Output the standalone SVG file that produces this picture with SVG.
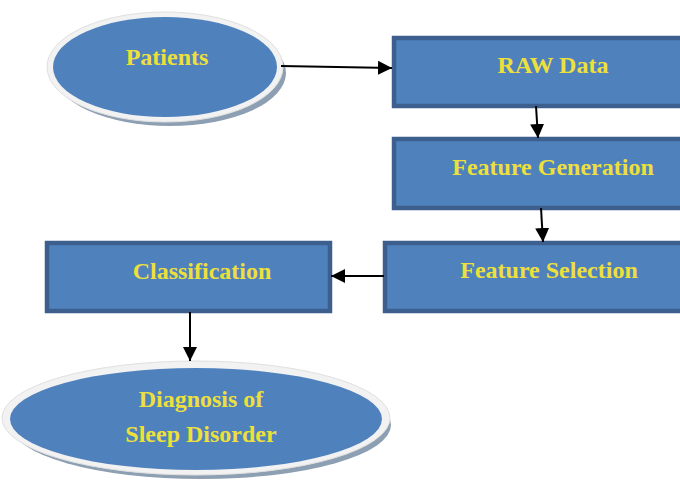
<svg xmlns="http://www.w3.org/2000/svg" width="680" height="484" viewBox="0 0 680 484">
<defs>
<style>
.box{fill:#4f81bd;stroke:#3d5f8e;stroke-width:4.5}
.rim{fill:#f2f2f2;stroke:#e0e0e0;stroke-width:1}
.shadow{fill:#8d9fb2}
.core{fill:#4f81bd}
.lbl{font-family:"Liberation Serif","Times New Roman",serif;font-weight:bold;font-size:24px;fill:#ede03a;text-anchor:middle}
.conn{stroke:#000;stroke-width:2;fill:none;marker-end:url(#ah)}
</style>
<marker id="ah" viewBox="0 0 10 10" refX="10" refY="5" markerWidth="7" markerHeight="7" markerUnits="strokeWidth" orient="auto">
<path d="M0,0 L10,5 L0,10 z" fill="#000"/>
</marker>
</defs>
<rect width="680" height="484" fill="#fff"/>
<g id="patients">
<ellipse class="shadow" cx="170" cy="73" rx="116" ry="53"/>
<ellipse class="rim" cx="165" cy="67" rx="118" ry="55"/>
<ellipse class="core" cx="165" cy="67" rx="112" ry="50"/>
<text class="lbl" x="167" y="65">Patients</text>
</g>
<g id="raw-data">
<rect class="box" x="394" y="38" width="300" height="68"/>
<text class="lbl" x="553" y="73">RAW Data</text>
</g>
<g id="feature-generation">
<rect class="box" x="394" y="139" width="300" height="69"/>
<text class="lbl" x="553" y="175">Feature Generation</text>
</g>
<g id="feature-selection">
<rect class="box" x="385" y="243" width="300" height="68"/>
<text class="lbl" x="549" y="278">Feature Selection</text>
</g>
<g id="classification">
<rect class="box" x="47" y="243" width="283" height="68"/>
<text class="lbl" x="202" y="279">Classification</text>
</g>
<g id="diagnosis">
<ellipse class="shadow" cx="201" cy="425" rx="190" ry="54"/>
<ellipse class="rim" cx="196" cy="418" rx="194" ry="57"/>
<ellipse class="core" cx="196" cy="419" rx="186" ry="51"/>
<text class="lbl" x="201" y="407">Diagnosis of</text>
<text class="lbl" x="201" y="442">Sleep Disorder</text>
</g>
<g id="connectors">
<line class="conn" x1="281" y1="66" x2="392" y2="68"/>
<line class="conn" x1="536" y1="106" x2="538" y2="138"/>
<line class="conn" x1="541" y1="208" x2="543" y2="242"/>
<line class="conn" x1="384" y1="276" x2="331" y2="276"/>
<line class="conn" x1="190" y1="312" x2="190" y2="361"/>
</g>
</svg>
